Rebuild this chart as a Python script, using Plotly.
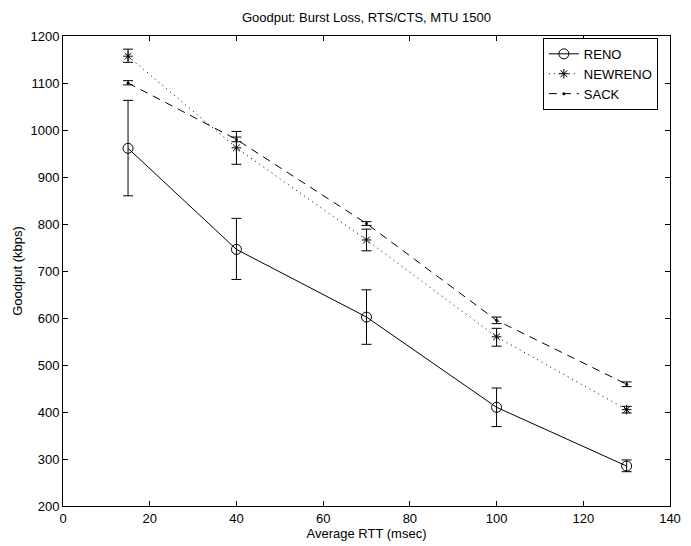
import plotly.graph_objects as go

rtt = [15, 40, 70, 100, 130]

reno = [961, 746, 602, 410, 285]
reno_hi = [1063, 812, 660, 451, 298]
reno_lo = [860, 682, 544, 369, 273]

newreno = [1157, 962, 766, 560, 405]
newreno_hi = [1172, 997, 789, 578, 412]
newreno_lo = [1144, 927, 743, 540, 398]

sack = [1100, 980, 801, 595, 459]
sack_hi = [1105, 985, 805, 602, 464]
sack_lo = [1096, 975, 797, 588, 454]

x_ticks = [0, 20, 40, 60, 80, 100, 120, 140]
y_ticks = [200, 300, 400, 500, 600, 700, 800, 900, 1000, 1100, 1200]

FONT = "Liberation Sans, Arial, Helvetica, sans-serif"
FS = 13


def err(vals, hi, lo):
    return dict(type="data", symmetric=False,
                array=[h - v for h, v in zip(hi, vals)],
                arrayminus=[v - l for v, l in zip(vals, lo)],
                color="black", thickness=1, width=5)


fig = go.Figure()
fig.add_trace(go.Scatter(
    x=rtt, y=reno, name="RENO", mode="lines+markers",
    line=dict(color="black", width=1, dash="solid"),
    marker=dict(symbol="circle-open", size=10, color="black", line=dict(width=1)),
    error_y=err(reno, reno_hi, reno_lo)))
fig.add_trace(go.Scatter(
    x=rtt, y=newreno, name="NEWRENO", mode="lines+markers",
    line=dict(color="black", width=1, dash="1px,4px"),
    marker=dict(symbol="asterisk-open", size=8, color="black", line=dict(width=1, color="black")),
    error_y=err(newreno, newreno_hi, newreno_lo)))
fig.add_trace(go.Scatter(
    x=rtt, y=sack, name="SACK", mode="lines+markers",
    line=dict(color="black", width=1, dash="8px,6px"),
    marker=dict(symbol="circle", size=3, color="black"),
    error_y=err(sack, sack_hi, sack_lo)))

axis_common = dict(showgrid=False, zeroline=False, showline=True, linecolor="black",
                   linewidth=1, mirror="ticks", ticks="inside", ticklen=5,
                   tickcolor="black", automargin=False,
                   tickfont=dict(family=FONT, size=FS, color="black"))

# the page body has an 8px default margin, so the figure is drawn 8px in
W, H = 683, 538

fig.update_layout(
    width=W, height=H,
    paper_bgcolor="white", plot_bgcolor="white",
    margin=dict(l=55, r=21, t=28, b=40),
    title=dict(text="Goodput: Burst Loss, RTS/CTS, MTU 1500", x=0.5, xanchor="center",
               xref="paper",
               y=1 - 9 / H, yanchor="middle", automargin=False,
               font=dict(family=FONT, size=FS, color="black")),
    xaxis=dict(range=[0, 140], tickvals=x_ticks,
               title=dict(text="Average RTT (msec)", font=dict(family=FONT, size=FS, color="black"),
                          standoff=3),
               **axis_common),
    yaxis=dict(range=[200, 1200], tickvals=y_ticks,
               title=dict(text="Goodput (kbps)", font=dict(family=FONT, size=FS, color="black"),
                          standoff=4),
               **axis_common),
    legend=dict(x=0.980, y=0.996, xanchor="right", yanchor="top",
                bgcolor="white", bordercolor="black", borderwidth=1,
                font=dict(family=FONT, size=FS, color="black"),
                tracegroupgap=0, itemwidth=30),
    showlegend=True,
)

fig.write_html("out.html")
